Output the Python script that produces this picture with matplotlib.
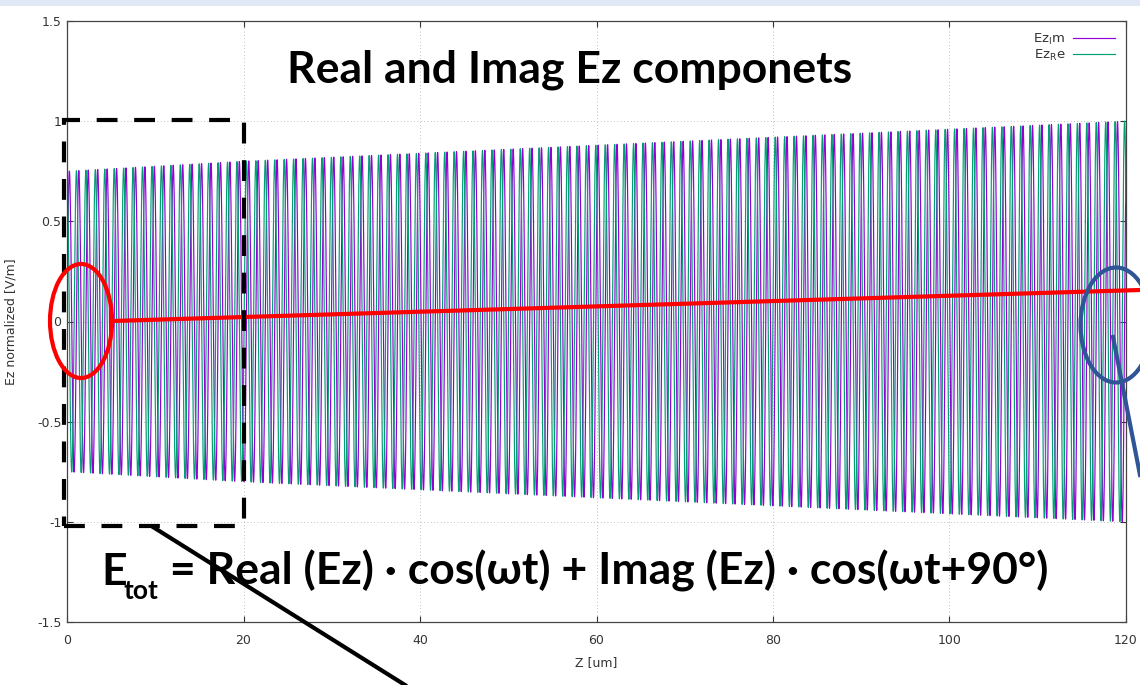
import numpy as np
import matplotlib
matplotlib.use("Agg")
import matplotlib.pyplot as plt
from matplotlib.patches import Ellipse, Rectangle
from matplotlib.lines import Line2D

# ---- data ----
env_z = [0, 20, 40, 60, 80, 100, 120]               # um
env_amp = [0.75, 0.80, 0.84, 0.88, 0.92, 0.96, 1.00]  # envelope of Ez (normalized)
wavelength = 1.07                                    # um, spacing of the oscillations
series_labels = [r"Ez$_\mathregular{I}$m", r"Ez$_\mathregular{R}$e"]
series_colors = ["#9400D3", "#009E73"]
x_ticks = [0, 20, 40, 60, 80, 100, 120]
y_ticks = [-1.5, -1, -0.5, 0, 0.5, 1, 1.5]
y_tick_labels = ["-1.5", "-1", "-0.5", "0", "0.5", "1", "1.5"]
title_text = "Real and Imag Ez componets"
eq_main = " = Real (Ez) \u00b7 cos(\u03c9t) + Imag (Ez) \u00b7 cos(\u03c9t+90\u00b0)"

z = np.linspace(0, 120, 24001)
amp = np.interp(z, env_z, env_amp)
ez_re = amp * np.cos(2 * np.pi * z / wavelength)
ez_im = amp * np.sin(2 * np.pi * z / wavelength)

W, H = 1140, 685
fig = plt.figure(figsize=(W / 100, H / 100), dpi=100)
fig.patch.set_facecolor("white")

def fx(px):
    return px / W

def fy(py):
    return 1 - py / H

# top light strip (slide background)
fig.patches.append(Rectangle((0, fy(6)), 1, 6 / H, transform=fig.transFigure,
                             facecolor="#dfe8f4", edgecolor="none", zorder=0))

ax = fig.add_axes([fx(67), fy(622), (1126 - 67) / W, (622 - 21) / H])
ax.plot(z, ez_im, color=series_colors[0], lw=0.85, label=series_labels[0])
ax.plot(z, ez_re, color=series_colors[1], lw=0.85, label=series_labels[1])
ax.set_xlim(0, 120)
ax.set_ylim(-1.5, 1.5)
ax.set_xticks(x_ticks)
ax.set_yticks(y_ticks)
ax.set_yticklabels(y_tick_labels)
small_family = ["Liberation Sans Narrow", "DejaVu Sans"]
for lab in ax.get_xticklabels() + ax.get_yticklabels():
    lab.set_fontfamily(small_family)
    lab.set_fontsize(9)
    lab.set_color("#333333")
ax.tick_params(direction="in", length=4.5, width=0.8, top=True, right=True,
               color="#333333")
ax.tick_params(axis="x", pad=9)
ax.tick_params(axis="y", pad=4)
ax.grid(True, ls=(0, (1, 3)), color="#aaaaaa", lw=0.6)
for sp in ax.spines.values():
    sp.set_color("#444444")
    sp.set_linewidth(0.9)
ax.set_xlabel("Z [um]", fontsize=9, color="#333333", family=small_family, labelpad=6)
ax.set_ylabel("Ez normalized [V/m]", fontsize=9, color="#333333",
              family=small_family, labelpad=14)
leg = ax.legend(loc="upper right", frameon=False, markerfirst=False,
                handlelength=3.2, handletextpad=0.6, labelspacing=0.1,
                borderaxespad=0.4, prop=dict(family=small_family, size=9.5))
for t in leg.get_texts():
    t.set_color("#333333")

# ---- slide overlays ----
big_font = ["Lato", "Noto Sans", "DejaVu Sans"]
fig.text(fx(570), fy(70), title_text, ha="center", va="center",
         fontsize=32, fontweight="bold", family=big_font, color="black", zorder=10)

fig.text(fx(101), fy(585), "E", ha="left", va="baseline", fontsize=32,
         fontweight="bold", family=big_font, zorder=10)
fig.text(fx(123), fy(599), "tot", ha="left", va="baseline", fontsize=19,
         fontweight="bold", family=big_font, zorder=10)
fig.text(fx(159), fy(585), eq_main, ha="left", va="baseline", fontsize=32,
         fontweight="bold", family=big_font, zorder=10)

# dashed rectangle
fig.patches.append(Rectangle((fx(64), fy(526)), (244 - 64) / W, (526 - 120) / H,
                             transform=fig.transFigure, fill=False, edgecolor="black",
                             lw=3, linestyle=(0, (5, 4)), capstyle="butt", zorder=9))
# red ellipse and line
fig.patches.append(Ellipse((fx(81), fy(321)), 62 / W, 114 / H, transform=fig.transFigure,
                           fill=False, edgecolor="#ff0000", lw=3, zorder=9))
fig.lines.append(Line2D([fx(112), fx(1140)], [fy(321), fy(290)], transform=fig.transFigure,
                        color="#ff0000", lw=3, zorder=9))
# blue ellipse and line
fig.patches.append(Ellipse((fx(1116), fy(325)), 71 / W, 115 / H, transform=fig.transFigure,
                           fill=False, edgecolor="#2f5597", lw=3, zorder=9))
fig.lines.append(Line2D([fx(1113), fx(1140)], [fy(337), fy(475)], transform=fig.transFigure,
                        color="#2f5597", lw=3, zorder=9))
# black pointer line
fig.lines.append(Line2D([fx(153), fx(405)], [fy(527), fy(685)], transform=fig.transFigure,
                        color="black", lw=3, zorder=9))

fig.savefig("out.png", dpi=100, facecolor="white")
